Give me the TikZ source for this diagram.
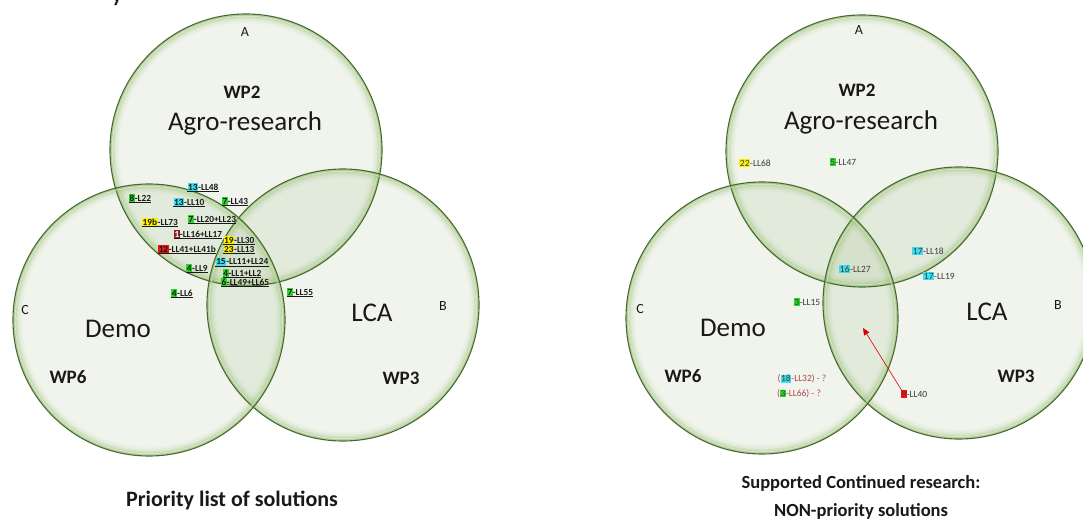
\documentclass[tikz,border=0pt]{standalone}
\usepackage{fontspec}
\setmainfont{Carlito}
\usetikzlibrary{arrows.meta}

\definecolor{rimgreen}{RGB}{72,104,46}
\definecolor{glowgreen}{RGB}{140,185,100}
\definecolor{fillgreen}{RGB}{110,150,70}
\definecolor{hlcyan}{RGB}{60,220,240}
\definecolor{hlgreen}{RGB}{40,215,40}
\definecolor{hlyellow}{RGB}{255,240,0}
\definecolor{hlred}{RGB}{230,20,20}
\definecolor{hldark}{RGB}{140,30,30}
\definecolor{qred}{RGB}{175,70,70}
\definecolor{lbltext}{RGB}{60,60,60}
\definecolor{ink}{RGB}{25,25,25}

% highlighted number in front of a lesson label
\newcommand\hb[2]{{\setlength{\fboxsep}{0.6pt}\colorbox{#1}{#2}}}
% bold underlined label: name, position, number box, rest
\newcommand\pl[4]{%
  \node[plab] (#1) at #2 {#3#4};
  \draw[uline] ([yshift=-1.3pt]#1.base west) -- ([yshift=-1.3pt]#1.base east);}
% plain label: name, position, content
\newcommand\nl[3]{\node[nlab] (#1) at #2 {#3};}

\begin{document}
\begin{tikzpicture}[x=1pt,y=-1pt,
  plab/.style={inner sep=0pt,text=ink,font=\bfseries\fontsize{9.3}{10}\selectfont},
  nlab/.style={inner sep=0pt,text=lbltext,font=\fontsize{9.5}{11}\selectfont},
  uline/.style={line width=0.45pt,ink},
  big/.style={text=ink,inner sep=0pt,font=\fontsize{27}{30}\selectfont},
  wp/.style={text=ink,inner sep=0pt,font=\bfseries\fontsize{19}{22}\selectfont},
  letter/.style={text=ink,inner sep=0pt,font=\fontsize{14}{16}\selectfont},
  caption/.style={text=ink,inner sep=0pt,align=center},
  venn/.style={fill=fillgreen,opacity=0.1}]

\useasboundingbox (0,0) rectangle (1083,526);
\fill[white] (0,0) rectangle (1083,526);

% circle centres
\coordinate (LA) at (246,150);
\coordinate (LB) at (343,305);
\coordinate (LC) at (149,320);
\coordinate (RA) at (862,151);
\coordinate (RB) at (959,303);
\coordinate (RC) at (762,318);

% translucent discs
\foreach \c in {LA,LB,LC,RA,RB,RC}
  \fill[venn] (\c) circle[radius=136pt];

% soft inner glow and dark rim
\foreach \c in {LA,LB,LC,RA,RB,RC}{
  \foreach \d/\o in {1.3/0.6,2.7/0.4,4.1/0.26,5.5/0.15,6.9/0.08,8.3/0.04}
    \draw[glowgreen,line width=1.5pt,opacity=\o] (\c) circle[radius={(136-\d)*1pt}];
  \draw[white,line width=0.6pt,opacity=0.5] (\c) circle[radius=133.8pt];
  \draw[rimgreen,line width=1.1pt] (\c) circle[radius=136pt];
}

% fragment of a heading above
\node[anchor=base,text=ink,inner sep=0pt,font=\bfseries\fontsize{20}{20}\selectfont] (ycut) at (117,3) {y};

% ---- left diagram ----
\node[letter] (LlA) at (245,32) {A};
\node[wp] (Lwp2) at (242,92) {WP2};
\node[big] (Lagro) at (245,123) {Agro-research};
\node[letter] (LlC) at (25,310) {C};
\node[big] (Ldemo) at (118,329) {Demo};
\node[wp] (Lwp6) at (68,377) {WP6};
\node[big] (Llca) at (372,313) {LCA};
\node[letter] (LlB) at (443,306) {B};
\node[wp] (Lwp3) at (401,378) {WP3};

\pl{p1}{(203,187)}{\hb{hlcyan}{13}}{-LL48}
\pl{p2}{(140,198)}{\hb{hlgreen}{8}}{-L22}
\pl{p3}{(189,202)}{\hb{hlcyan}{13}}{-LL10}
\pl{p4}{(235,201)}{\hb{hlgreen}{7}}{-LL43}
\pl{p5}{(160,222)}{\hb{hlyellow}{19b}}{-LL73}
\pl{p6}{(212,219)}{\hb{hlgreen}{7}}{-LL20+LL23}
\pl{p7}{(198,234)}{\hb{hldark}{\color{white}1}}{-LL16+LL17}
\pl{p8}{(239,240)}{\hb{hlyellow}{19}}{-LL30}
\pl{p9}{(187,249)}{\hb{hlred}{12}}{-LL41+LL41b}
\pl{p10}{(239,249)}{\hb{hlyellow}{23}}{-LL13}
\pl{p11}{(242,262)}{\hb{hlcyan}{15}}{-LL11+LL24}
\pl{p12}{(197,268)}{\hb{hlgreen}{4}}{-LL9}
\pl{p13}{(242,273)}{\hb{hlgreen}{4}}{-LL1+LL2}
\pl{p14}{(245,282)}{\hb{hlgreen}{6}}{-LL49+LL65}
\pl{p15}{(182,293)}{\hb{hlgreen}{4}}{-LL6}
\pl{p16}{(300,292)}{\hb{hlgreen}{7}}{-LL55}

\node[caption,font=\bfseries\fontsize{22}{26}\selectfont] (Lcap) at (232,500) {Priority list of solutions};

% ---- right diagram ----
\node[letter] (RlA) at (859,30) {A};
\node[wp] (Rwp2) at (857,90) {WP2};
\node[big] (Ragro) at (861,122) {Agro-research};
\node[letter] (RlC) at (640,309) {C};
\node[big] (Rdemo) at (733,328) {Demo};
\node[wp] (Rwp6) at (683,376) {WP6};
\node[big] (Rlca) at (987,312) {LCA};
\node[letter] (RlB) at (1058,305) {B};
\node[wp] (Rwp3) at (1016,376) {WP3};

\nl{r1}{(755,163)}{\hb{hlyellow}{22}-LL68}
\nl{r2}{(843,162)}{\hb{hlgreen}{5}-LL47}
\nl{r3}{(928,251)}{\hb{hlcyan}{17}-LL18}
\nl{r4}{(855,269)}{\hb{hlcyan}{16}-LL27}
\nl{r5}{(939,276)}{\hb{hlcyan}{17}-LL19}
\nl{r6}{(807,302)}{\hb{hlgreen}{3}-LL15}
\nl{r7}{(802,379)}{\color{qred}(\hb{hlcyan}{\color{lbltext}18}-LL32) - ?}
\nl{r8}{(799,394)}{\color{qred}(\hb{hlgreen}{\color{lbltext}3}-LL66) - ?}
\nl{r9}{(914,394)}{\hb{hlred}{\color{hldark}9}-LL40}

\coordinate (tip) at (863,328);
\draw[red!85!black,line width=0.6pt,-{Triangle[length=7pt,width=6pt]}]
  ([xshift=1pt]r9.north west) -- (tip);

\node[caption,font=\bfseries\fontsize{18.5}{28}\selectfont] (Rcap) at (861,497) {Supported Continued research:\\NON-priority solutions};

\end{tikzpicture}
\end{document}
